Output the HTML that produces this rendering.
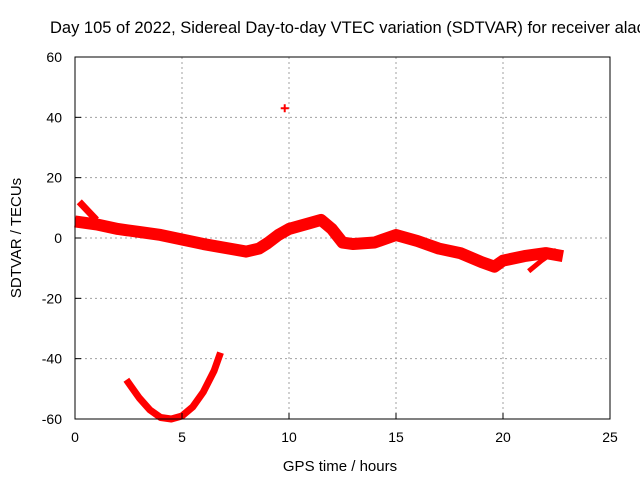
<!DOCTYPE html>
<html><head><meta charset="utf-8"><style>
body{margin:0;background:#fff;}
svg{display:block;font-family:"Liberation Sans",sans-serif;}
</style></head><body>
<svg id="chart" width="640" height="480" viewBox="0 0 640 480">
<rect width="640" height="480" fill="#fff"/>
<text x="50" y="33" font-size="16.5" fill="#000">Day 105 of 2022, Sidereal Day-to-day VTEC variation (SDTVAR) for receiver alac</text>
<g id="grid"></g>
<g id="marks"></g>
<rect x="75" y="57" width="535" height="362" fill="none" stroke="#000" stroke-width="1"/>
<g id="ticks"></g>
<text x="340" y="471" font-size="15" text-anchor="middle">GPS time / hours</text>
<text transform="translate(21,238) rotate(-90)" font-size="15" text-anchor="middle">SDTVAR / TECUs</text>
</svg>
<script>
const xTicks=[0,5,10,15,20,25];
const yTicks=[60,40,20,0,-20,-40,-60];
const mainHours=[0,0.5,1,2,3,4,5,6,6.8,8,8.6,9,9.5,10,11,11.5,12,12.5,13,14,15,16,17,18,19,19.6,20,21,22,22.8];
const mainValues=[5.5,5,4.5,3,2,1,-0.5,-2,-3,-4.5,-3.5,-1.7,1,3,5,6,3,-1.5,-2,-1.5,1,-1,-3.5,-5,-8,-9.5,-7.5,-6,-5,-6];
const spikeHours=[0.2,0.6,1];
const spikeValues=[12,9,6];
const tailHours=[22.5,21.8,21.2];
const tailValues=[-4,-7.5,-11];
const arcHours=[2.4,3,3.5,4,4.5,5,5.5,6,6.5,6.8];
const arcValues=[-47,-53,-57,-59.5,-60,-59,-56,-51,-44,-38];
const outlierHours=[9.8];
const outlierValues=[43];
const X=h=>75+h*535/25;
const Y=v=>238-v*362/120;
const NS="http://www.w3.org/2000/svg";
function mk(tag,attrs,parent){const e=document.createElementNS(NS,tag);for(const k in attrs)e.setAttribute(k,attrs[k]);parent.appendChild(e);return e;}
const grid=document.getElementById('grid'),ticks=document.getElementById('ticks'),marks=document.getElementById('marks');
xTicks.forEach(t=>{
 if(t>0&&t<25){const g=mk('line',{x1:X(t),x2:X(t),y1:57,y2:419,stroke:'#a0a0a0','stroke-dasharray':'2,3'},grid);
 
 }
 const tk=mk('line',{x1:X(t),x2:X(t),y1:419,y2:413,stroke:'#000'},ticks);
 
 
 const l=mk('text',{x:X(t),y:442,'font-size':14,'text-anchor':'middle'},ticks);l.textContent=t;
 
 
});
yTicks.forEach(t=>{
 if(t<60&&t>-60){const g=mk('line',{x1:75,x2:610,y1:Y(t),y2:Y(t),stroke:'#a0a0a0','stroke-dasharray':'2,3'},grid);
 
 }
 const tk=mk('line',{x1:75,x2:81,y1:Y(t),y2:Y(t),stroke:'#000'},ticks);
 
 
 const l=mk('text',{x:62,y:Y(t)+5,'font-size':14,'text-anchor':'end'},ticks);l.textContent=t;
 
 
});
function band(hs,vs,w,name){
 const pts=hs.map((h,i)=>X(h)+','+Y(vs[i])).join(' ');
 const p=mk('polyline',{points:pts,fill:'none',stroke:'#ff0000','stroke-width':w,'stroke-linejoin':'round','stroke-linecap':'butt'},marks);
 
 
}
band(mainHours,mainValues,12,'sdtvar-main-band');
band(spikeHours,spikeValues,7,'sdtvar-start-spike');
band(tailHours,tailValues,5,'sdtvar-tail-branch');
band(arcHours,arcValues,7,'sdtvar-low-arc');
outlierHours.forEach((h,i)=>{
 const g=mk('path',{d:`M${X(h)-4},${Y(outlierValues[i])}h8M${X(h)},${Y(outlierValues[i])-4}v8`,stroke:'#ff0000','stroke-width':2},marks);
 
 
});
</script>
</body></html>
